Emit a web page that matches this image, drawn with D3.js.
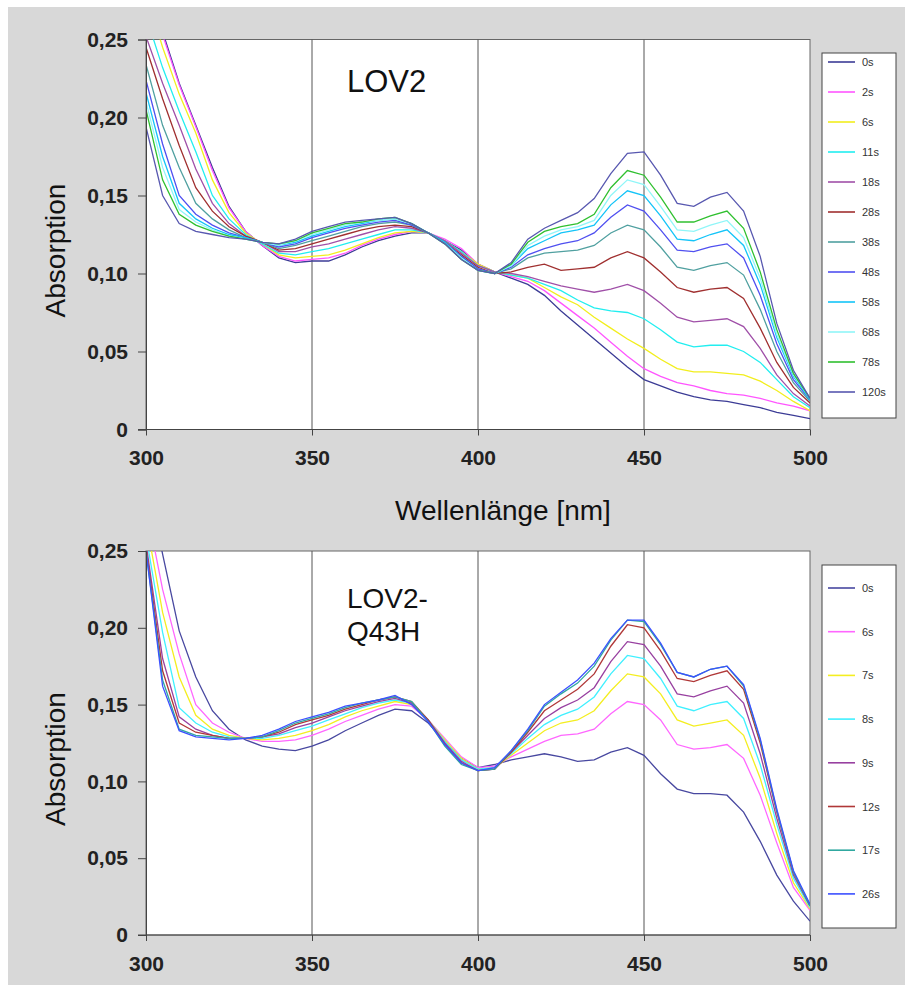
<!DOCTYPE html>
<html>
<head>
<meta charset="utf-8">
<script src="https://cdn.jsdelivr.net/npm/d3@7"></script>
<style>
  body { margin: 0; background: #fff; }
  text { font-family: "Liberation Sans", Arial, sans-serif; }
</style>
</head>
<body>
<svg id="chart" width="905" height="985"></svg>
<script>
// Wavelength grid (nm)
const wavelengths = [300,305,310,315,320,325,330,335,340,345,350,355,360,365,370,375,380,385,390,395,400,405,410,415,420,425,430,435,440,445,450,455,460,465,470,475,480,485,490,495,500];

// Top panel: LOV2, recovery after illumination
const lovLabels = ["0s","2s","6s","11s","18s","28s","38s","48s","58s","68s","78s","120s"];
const lovColors = ["#3c3c96","#ff55ff","#f2ee1e","#22eef0","#a050a8","#a03030","#50a0a0","#5050f0","#14c4f8","#90f6f8","#30c030","#5858b0"];
const lov0s   = [0.300,0.255,0.222,0.195,0.168,0.143,0.127,0.118,0.110,0.107,0.108,0.108,0.112,0.117,0.121,0.124,0.126,0.126,0.121,0.115,0.106,0.101,0.097,0.093,0.086,0.076,0.067,0.058,0.049,0.040,0.032,0.028,0.024,0.021,0.019,0.018,0.016,0.014,0.011,0.009,0.007];
const lov2s   = [0.290,0.253,0.221,0.194,0.166,0.142,0.127,0.118,0.111,0.108,0.109,0.110,0.113,0.118,0.122,0.125,0.127,0.126,0.122,0.116,0.106,0.101,0.098,0.095,0.089,0.081,0.073,0.065,0.056,0.047,0.039,0.034,0.030,0.028,0.025,0.023,0.022,0.020,0.017,0.015,0.012];
const lov6s   = [0.280,0.245,0.215,0.190,0.160,0.139,0.126,0.119,0.112,0.110,0.111,0.112,0.115,0.119,0.123,0.126,0.127,0.126,0.121,0.114,0.106,0.101,0.099,0.097,0.091,0.085,0.080,0.072,0.065,0.058,0.052,0.045,0.039,0.037,0.037,0.036,0.035,0.031,0.025,0.018,0.012];
const lov11s  = [0.265,0.232,0.204,0.178,0.150,0.135,0.125,0.119,0.113,0.112,0.114,0.116,0.119,0.122,0.125,0.128,0.128,0.126,0.121,0.114,0.105,0.101,0.099,0.097,0.093,0.089,0.083,0.078,0.076,0.075,0.071,0.064,0.056,0.053,0.054,0.054,0.050,0.043,0.032,0.021,0.014];
const lov18s  = [0.252,0.222,0.195,0.167,0.145,0.132,0.124,0.120,0.114,0.114,0.117,0.119,0.122,0.125,0.128,0.130,0.129,0.126,0.121,0.113,0.105,0.101,0.100,0.098,0.095,0.092,0.090,0.088,0.090,0.093,0.089,0.081,0.072,0.069,0.070,0.071,0.066,0.052,0.035,0.023,0.015];
const lov28s  = [0.245,0.212,0.182,0.155,0.140,0.130,0.124,0.120,0.115,0.116,0.119,0.122,0.125,0.128,0.130,0.131,0.130,0.126,0.120,0.112,0.104,0.100,0.101,0.104,0.106,0.102,0.103,0.104,0.110,0.114,0.110,0.101,0.091,0.088,0.090,0.091,0.084,0.065,0.043,0.027,0.017];
const lov38s  = [0.234,0.195,0.168,0.145,0.135,0.128,0.123,0.120,0.116,0.118,0.121,0.124,0.127,0.130,0.132,0.133,0.131,0.126,0.120,0.111,0.103,0.100,0.103,0.110,0.113,0.114,0.115,0.118,0.126,0.131,0.128,0.117,0.104,0.102,0.105,0.107,0.099,0.077,0.050,0.030,0.018];
const lov48s  = [0.224,0.183,0.150,0.138,0.131,0.126,0.123,0.120,0.117,0.119,0.123,0.126,0.129,0.131,0.133,0.134,0.131,0.126,0.120,0.111,0.103,0.100,0.104,0.112,0.116,0.119,0.121,0.126,0.136,0.144,0.140,0.128,0.115,0.114,0.117,0.119,0.110,0.086,0.055,0.032,0.019];
const lov58s  = [0.216,0.175,0.145,0.135,0.129,0.125,0.123,0.120,0.118,0.120,0.124,0.127,0.130,0.132,0.134,0.135,0.132,0.126,0.120,0.110,0.102,0.100,0.105,0.116,0.121,0.126,0.128,0.131,0.144,0.153,0.150,0.137,0.122,0.121,0.125,0.128,0.118,0.093,0.059,0.034,0.019];
const lov68s  = [0.210,0.168,0.141,0.133,0.128,0.124,0.122,0.120,0.118,0.121,0.125,0.128,0.131,0.133,0.134,0.135,0.132,0.126,0.119,0.110,0.102,0.100,0.105,0.118,0.124,0.128,0.130,0.134,0.150,0.160,0.157,0.143,0.128,0.127,0.131,0.134,0.123,0.097,0.061,0.035,0.020];
const lov78s  = [0.205,0.160,0.138,0.131,0.127,0.124,0.122,0.120,0.119,0.121,0.126,0.129,0.132,0.133,0.135,0.136,0.132,0.126,0.119,0.109,0.102,0.100,0.106,0.120,0.127,0.130,0.132,0.138,0.155,0.166,0.163,0.149,0.133,0.133,0.137,0.140,0.129,0.101,0.064,0.036,0.020];
const lov120s = [0.194,0.150,0.132,0.127,0.125,0.123,0.122,0.120,0.119,0.122,0.127,0.130,0.133,0.134,0.135,0.136,0.132,0.126,0.119,0.109,0.102,0.100,0.107,0.122,0.129,0.134,0.139,0.148,0.164,0.177,0.178,0.163,0.145,0.143,0.149,0.152,0.140,0.111,0.068,0.038,0.020];

// Bottom panel: LOV2-Q43H
const q43Labels = ["0s","6s","7s","8s","9s","12s","17s","26s"];
const q43Colors = ["#4848a0","#ff66ff","#f4ee20","#40f0ff","#9840a0","#b03838","#30a8a0","#3c50ff"];
const q0s  = [0.300,0.248,0.198,0.168,0.146,0.134,0.127,0.123,0.121,0.120,0.123,0.127,0.133,0.138,0.143,0.147,0.146,0.138,0.126,0.115,0.109,0.111,0.114,0.116,0.118,0.116,0.113,0.114,0.119,0.122,0.117,0.105,0.095,0.092,0.092,0.091,0.080,0.061,0.039,0.022,0.009];
const q6s  = [0.280,0.225,0.183,0.150,0.138,0.132,0.128,0.126,0.126,0.127,0.130,0.134,0.139,0.143,0.147,0.150,0.149,0.140,0.128,0.116,0.109,0.110,0.116,0.121,0.126,0.130,0.131,0.134,0.144,0.152,0.150,0.140,0.124,0.121,0.122,0.124,0.115,0.091,0.060,0.031,0.016];
const q7s  = [0.270,0.210,0.168,0.143,0.134,0.130,0.128,0.127,0.128,0.130,0.133,0.137,0.142,0.146,0.149,0.152,0.150,0.140,0.127,0.115,0.108,0.109,0.117,0.125,0.133,0.138,0.140,0.146,0.159,0.170,0.168,0.157,0.140,0.136,0.138,0.140,0.130,0.102,0.066,0.034,0.017];
const q8s  = [0.260,0.197,0.148,0.138,0.132,0.129,0.128,0.128,0.130,0.133,0.136,0.140,0.144,0.148,0.151,0.153,0.151,0.140,0.126,0.114,0.108,0.109,0.118,0.128,0.137,0.143,0.147,0.155,0.170,0.182,0.180,0.167,0.149,0.146,0.150,0.152,0.141,0.111,0.072,0.037,0.018];
const q9s  = [0.255,0.180,0.142,0.134,0.130,0.128,0.128,0.129,0.131,0.135,0.138,0.142,0.146,0.149,0.152,0.154,0.151,0.140,0.125,0.113,0.107,0.108,0.119,0.130,0.141,0.148,0.153,0.161,0.178,0.191,0.189,0.175,0.157,0.155,0.159,0.162,0.151,0.118,0.076,0.039,0.019];
const q12s = [0.252,0.172,0.138,0.132,0.130,0.128,0.128,0.129,0.132,0.137,0.140,0.143,0.147,0.150,0.153,0.155,0.152,0.140,0.124,0.112,0.107,0.108,0.119,0.132,0.146,0.153,0.160,0.170,0.188,0.202,0.200,0.185,0.167,0.165,0.169,0.172,0.160,0.125,0.080,0.041,0.019];
const q17s = [0.250,0.166,0.134,0.130,0.129,0.128,0.128,0.129,0.133,0.138,0.141,0.144,0.148,0.151,0.153,0.155,0.152,0.139,0.123,0.111,0.107,0.108,0.120,0.133,0.149,0.157,0.164,0.175,0.192,0.205,0.204,0.189,0.171,0.168,0.173,0.175,0.162,0.127,0.081,0.041,0.019];
const q26s = [0.250,0.162,0.133,0.129,0.128,0.127,0.128,0.130,0.134,0.139,0.142,0.145,0.149,0.151,0.153,0.156,0.150,0.139,0.124,0.112,0.107,0.109,0.120,0.134,0.150,0.158,0.166,0.177,0.193,0.205,0.205,0.190,0.171,0.168,0.173,0.175,0.163,0.128,0.082,0.042,0.020];

const yTicks = [0, 0.05, 0.10, 0.15, 0.20, 0.25];
const xTicks = [300, 350, 400, 450, 500];
const gridLines = [350, 400, 450];

const svg = d3.select("#chart");

// grey backdrop
svg.append("rect").attr("x", 8).attr("y", 7).attr("width", 897).attr("height", 978).attr("fill", "#d8d8d8");

const x = d3.scaleLinear().domain([300, 500]).range([146, 810]);
const fmt = d => d === 0 ? "0" : d3.format(".2f")(d).replace(".", ",");

function drawPanel(id, top, bottom, series, labels, colors, title, legend) {
    const y = d3.scaleLinear().domain([0, 0.25]).range([bottom, top]);
    const g = svg.append("g");

    g.append("clipPath").attr("id", "clip" + id)
      .append("rect").attr("x", x(300)).attr("y", top).attr("width", x(500) - x(300)).attr("height", bottom - top);

    g.append("rect")
        .attr("x", x(300)).attr("y", top)
        .attr("width", x(500) - x(300)).attr("height", bottom - top)
        .attr("fill", "#fff").attr("stroke", "#666").attr("stroke-width", 1);

    // vertical grid lines
    g.selectAll(".grid").data(gridLines).enter().append("line")
        .attr("x1", d => x(d)).attr("x2", d => x(d))
        .attr("y1", top).attr("y2", bottom)
        .attr("stroke", "#555").attr("stroke-width", 1);

    const line = d3.line()
        .x((d, i) => x(wavelengths[i]))
        .y(d => y(d));

    g.append("g").attr("clip-path", "url(#clip" + id + ")")
      .selectAll("path").data(series).enter().append("path")
        .attr("d", line)
        .attr("fill", "none")
        .attr("stroke", (d, i) => colors[i])
        .attr("stroke-width", 1.3);

    // axes
    const ax = g.append("g").attr("transform", `translate(0,${bottom})`)
        .call(d3.axisBottom(x).tickValues(xTicks).tickSize(6).tickPadding(15));
    const ay = g.append("g").attr("transform", `translate(${x(300)},0)`)
        .call(d3.axisLeft(y).tickValues(yTicks).tickSize(8).tickPadding(10).tickFormat(fmt));
    [ax, ay].forEach(a => {
        a.select(".domain").attr("stroke", "#444");
        a.selectAll(".tick line").attr("stroke", "#444");
        a.selectAll("text").attr("font-size", 21).attr("font-weight", "bold")
            .attr("fill", "#222").attr("font-family", "'Liberation Sans', Arial, sans-serif");
    });
    ax.select(".domain").attr("d", `M${x(300) - 8},0H${x(500)}`);

    // y label
    g.append("text")
        .attr("transform", `translate(65,${(top + bottom) / 2 + 16}) rotate(-90)`)
        .attr("text-anchor", "middle")
        .attr("font-size", 28).attr("fill", "#111")
        .text("Absorption");

    // panel title
    g.selectAll(".title").data(title).enter().append("text")
        .attr("x", 347).attr("y", (d, i) => legend.titleY + i * 33)
        .attr("font-size", legend.titleSize).attr("fill", "#111")
        .text(d => d);

    // legend
    const lg = g.append("g");
    lg.append("rect")
        .attr("x", 822).attr("y", legend.y0).attr("width", 74).attr("height", legend.y1 - legend.y0)
        .attr("fill", "#fff").attr("stroke", "#444").attr("stroke-width", 1);
    const items = lg.selectAll(".item").data(labels).enter().append("g")
        .attr("transform", (d, i) => `translate(0,${legend.first + i * legend.step})`);
    items.append("line")
        .attr("x1", 828).attr("x2", 855)
        .attr("stroke", (d, i) => colors[i]).attr("stroke-width", 1.6);
    items.append("text")
        .attr("x", 862).attr("y", 4)
        .attr("font-size", 11).attr("fill", "#333")
        .text(d => d);
}

drawPanel("top", 39.5, 429.5,
    [lov0s, lov2s, lov6s, lov11s, lov18s, lov28s, lov38s, lov48s, lov58s, lov68s, lov78s, lov120s],
    lovLabels, lovColors, ["LOV2"],
    { y0: 53, y1: 418, first: 62, step: 30, titleY: 92, titleSize: 31 });

drawPanel("bot", 551, 935,
    [q0s, q6s, q7s, q8s, q9s, q12s, q17s, q26s],
    q43Labels, q43Colors, ["LOV2-", "Q43H"],
    { y0: 565, y1: 928, first: 588, step: 43.7, titleY: 608, titleSize: 28 });

// shared x-axis title
svg.append("text")
    .attr("x", 503).attr("y", 520)
    .attr("text-anchor", "middle")
    .attr("font-size", 28).attr("fill", "#111")
    .text("Wellenlänge [nm]");
</script>
</body>
</html>
